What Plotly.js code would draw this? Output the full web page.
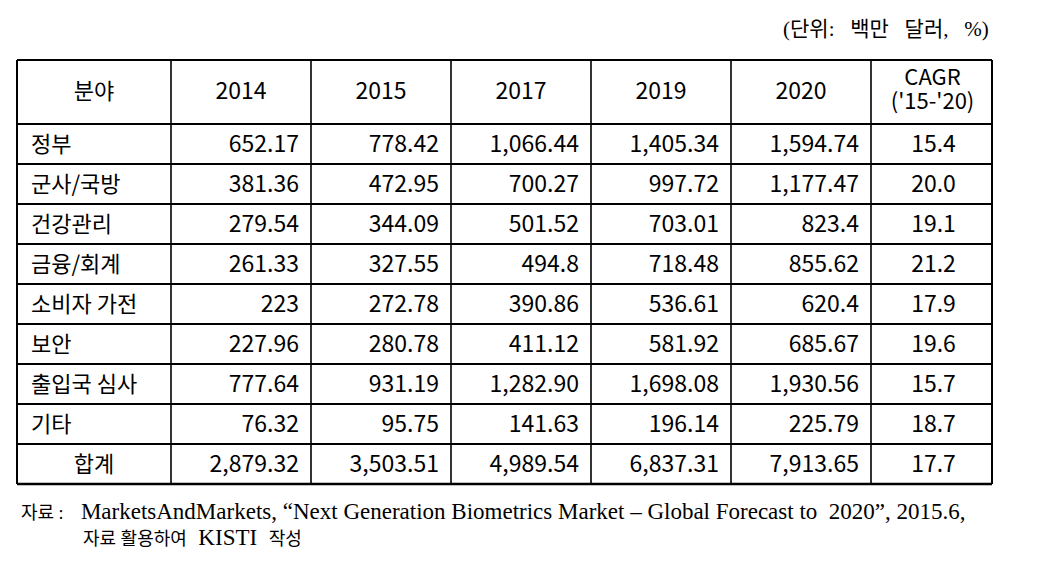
<!DOCTYPE html>
<html><head><meta charset="utf-8">
<script src="https://cdn.plot.ly/plotly-3.0.1.min.js"></script>
<style>body{margin:0;background:#fff}#c{width:1038px;height:577px}</style>
</head><body><div id="c"></div>
<script>
// ---- data ----
const headers = ["분야", "2014", "2015", "2017", "2019", "2020", "CAGR<br>('15-'20)"];
const categories = ["정부", "군사/국방", "건강관리", "금융/회계", "소비자 가전", "보안", "출입국 심사", "기타", "합계"];
const v2014 = ["652.17", "381.36", "279.54", "261.33", "223", "227.96", "777.64", "76.32", "2,879.32"];
const v2015 = ["778.42", "472.95", "344.09", "327.55", "272.78", "280.78", "931.19", "95.75", "3,503.51"];
const v2017 = ["1,066.44", "700.27", "501.52", "494.8", "390.86", "411.12", "1,282.90", "141.63", "4,989.54"];
const v2019 = ["1,405.34", "997.72", "703.01", "718.48", "536.61", "581.92", "1,698.08", "196.14", "6,837.31"];
const v2020 = ["1,594.74", "1,177.47", "823.4", "855.62", "620.4", "685.67", "1,930.56", "225.79", "7,913.65"];
const cagr = ["15.4", "20.0", "19.1", "21.2", "17.9", "19.6", "15.7", "18.7", "17.7"];
const unitText = "(단위: 백만 달러, %)";
const sourceKo = "자료 :";
const sourceEn = "MarketsAndMarkets, “Next Generation Biometrics Market – Global Forecast to  2020”, 2015.6,";
const sourceLine2Ko = ["자료 활용하여", "작성"];
const sourceLine2En = "KISTI";

// ---- layout geometry (pixels) ----
const W = 1038, H = 577;
const colW = [154, 140, 140, 140, 140, 140, 121];
const x0 = 17, yTop = 60, headH = 64, rowH = 40;
const edges = [x0];
colW.forEach(w => edges.push(edges[edges.length - 1] + w));
const nRows = categories.length;
const rowEdges = [yTop, yTop + headH];
for (let i = 0; i < nRows; i++) rowEdges.push(rowEdges[rowEdges.length - 1] + rowH);
const rowMid = categories.map((_, i) => rowEdges[i + 1] + rowH / 2 + 2);
const pad = 12;
const fKo = "Noto Sans CJK KR, sans-serif";
const numFont = {family: "Noto Sans CJK KR, sans-serif", size: 23, color: "#000"};

const traces = [];
function textTrace(xs, ys, texts, pos, font) {
  traces.push({type: "scatter", mode: "text", x: xs, y: ys, text: texts, textposition: pos,
    textfont: font, hoverinfo: "skip", showlegend: false, cliponaxis: false});
}

// header
const headSplit = headers[6].split("<br>");
const headMid = yTop + headH / 2 + 1;
textTrace([ (edges[0] + edges[1]) / 2 ], [headMid], [headers[0]], "middle center", {family: fKo, size: 22, color: "#000"});
textTrace(headers.slice(1, 6).map((_, j) => (edges[j + 1] + edges[j + 2]) / 2), headers.slice(1, 6).map(() => headMid),
  headers.slice(1, 6), "middle center", numFont);
const cagrX = (edges[6] + edges[7]) / 2 + 1;
textTrace([cagrX, cagrX], [headMid - 14, headMid + 10], headSplit, "middle center", {family: numFont.family, size: 22, color: "#000"});

// first column: categories (total row centered)
const last = nRows - 1;
textTrace(categories.slice(0, last).map(() => edges[0] + pad + 2), rowMid.slice(0, last), categories.slice(0, last),
  "middle right", {family: fKo, size: 22, color: "#000"});
textTrace([(edges[0] + edges[1]) / 2], [rowMid[last]], [categories[last]], "middle center", {family: fKo, size: 22, color: "#000"});

// numeric columns
[v2014, v2015, v2017, v2019, v2020].forEach((col, j) => {
  textTrace(col.map(() => edges[j + 2] - pad), rowMid, col, "middle left", numFont);
});
textTrace(cagr.map(() => (edges[6] + edges[7]) / 2 + 2), rowMid, cagr, "middle center", numFont);

// grid lines
const shapes = [];
rowEdges.forEach((y, i) => {
  shapes.push({type: "line", xref: "x", yref: "y", x0: edges[0], x1: edges[edges.length - 1], y0: y, y1: y,
    line: {color: "#000", width: i === rowEdges.length - 1 ? 2.5 : 2}});
});
edges.forEach(x => {
  shapes.push({type: "line", xref: "x", yref: "y", x0: x, x1: x, y0: rowEdges[0], y1: rowEdges[rowEdges.length - 1],
    line: {color: "#000", width: x === edges[0] || x === edges[edges.length - 1] ? 2 : 1.6}});
});

const serif = "Liberation Serif, Noto Sans CJK KR, serif";
const layout = {
  width: W, height: H,
  margin: {l: 0, r: 0, t: 0, b: 0},
  paper_bgcolor: "#fff", plot_bgcolor: "#fff",
  showlegend: false,
  xaxis: {range: [0, W], visible: false, fixedrange: true},
  yaxis: {range: [H, 0], visible: false, fixedrange: true},
  shapes: shapes,
  annotations: [
    {text: unitText.replace(/ /g, "\u00a0\u00a0\u00a0"), xref: "x", yref: "y", x: 991, y: 29, xanchor: "right", yanchor: "middle", showarrow: false,
     font: {family: serif, size: 21, color: "#000"}},
    {text: '<span style="font-size:18px">' + sourceKo + '</span>\u00a0\u00a0\u00a0' + sourceEn, xref: "x", yref: "y", x: 19, y: 511,
     xanchor: "left", yanchor: "middle", showarrow: false, font: {family: serif, size: 23, color: "#000"}},
    {text: '<span style="font-size:18px">' + sourceLine2Ko[0] + '</span>\u00a0\u00a0' + sourceLine2En + '\u00a0\u00a0<span style="font-size:18px">' + sourceLine2Ko[1] + '</span>',
     xref: "x", yref: "y", x: 81, y: 537, xanchor: "left", yanchor: "middle", showarrow: false, font: {family: serif, size: 23, color: "#000"}}
  ]
};

Plotly.newPlot("c", traces, layout, {displayModeBar: false, staticPlot: true});
</script></body></html>
